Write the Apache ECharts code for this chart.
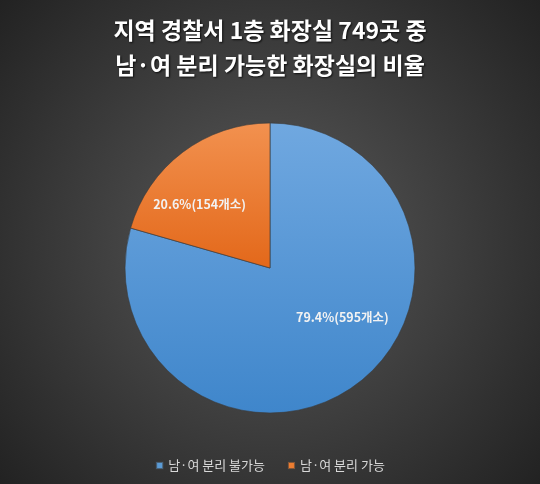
<!DOCTYPE html>
<html><head><meta charset="utf-8">
<script src="https://cdn.jsdelivr.net/npm/echarts@6/dist/echarts.min.js"></script>
<style>html,body{margin:0;padding:0;background:#2a2a2a}#c{width:540px;height:484px}</style>
</head><body><div id="c"></div>
<script>
const titleLines = ['지역 경찰서 1층 화장실 749곳 중', '남·여 분리 가능한 화장실의 비율'];
const categories = ['남·여 분리 불가능', '남·여 분리 가능'];
const values = [595, 154];
const percents = ['79.4%', '20.6%'];
const units = '개소';

const fills = [
  new echarts.graphic.LinearGradient(0,0,0,1,[{offset:0,color:'#70a8e0'},{offset:1,color:'#3f86cb'}]),
  new echarts.graphic.LinearGradient(0,0,0,1,[{offset:0,color:'#f2914f'},{offset:1,color:'#e3681a'}])
];
const labelOffsets = [[27,-11],[-25,-3]];
const legendColors = ['#5b9bd5','#ed7d31'];

const chart = echarts.init(document.getElementById('c'), null, {renderer:'canvas'});
chart.setOption({
  backgroundColor: new echarts.graphic.RadialGradient(0.5,0.5,0.75,[{offset:0,color:'#5a5a5a'},{offset:1,color:'#222222'}]),
  title: {
    text: titleLines.join('\n'),
    left: 'center', top: 8,
    textStyle: {color:'#ffffff', fontSize:23, fontWeight:'bold', fontFamily:'"Noto Sans CJK KR", sans-serif', lineHeight:35,
      textShadowColor:'rgba(0,0,0,0.8)', textShadowBlur:2, textShadowOffsetX:1, textShadowOffsetY:1}
  },
  legend: {
    bottom: 7, left:'center', icon:'rect', itemWidth:7, itemHeight:7, itemGap:22,
    textStyle:{color:'#d9d9d9', fontSize:13, fontFamily:'"Noto Sans CJK KR", sans-serif'},
    data: categories.map((c,i)=>({name:c, itemStyle:{color:legendColors[i]}}))
  },
  series: [{
    type:'pie', center:[270,268], radius:[0,145], startAngle:90, clockwise:true,
    avoidLabelOverlap:false, silent:true,
    label:{show:true, position:'inside', color:'#f2f2f2', fontSize:12.5, fontWeight:'bold',
      fontFamily:'"Noto Sans CJK KR", sans-serif',
      formatter:(p)=> percents[p.dataIndex] + '(' + values[p.dataIndex] + units + ')'},
    labelLine:{show:false},
    itemStyle:{borderColor:'rgba(60,60,60,0.6)', borderWidth:0.6},
    data: categories.map((c,i)=>({name:c, value:values[i], itemStyle:{color:fills[i]}, label:{offset:labelOffsets[i]}}))
  }]
});
</script></body></html>
